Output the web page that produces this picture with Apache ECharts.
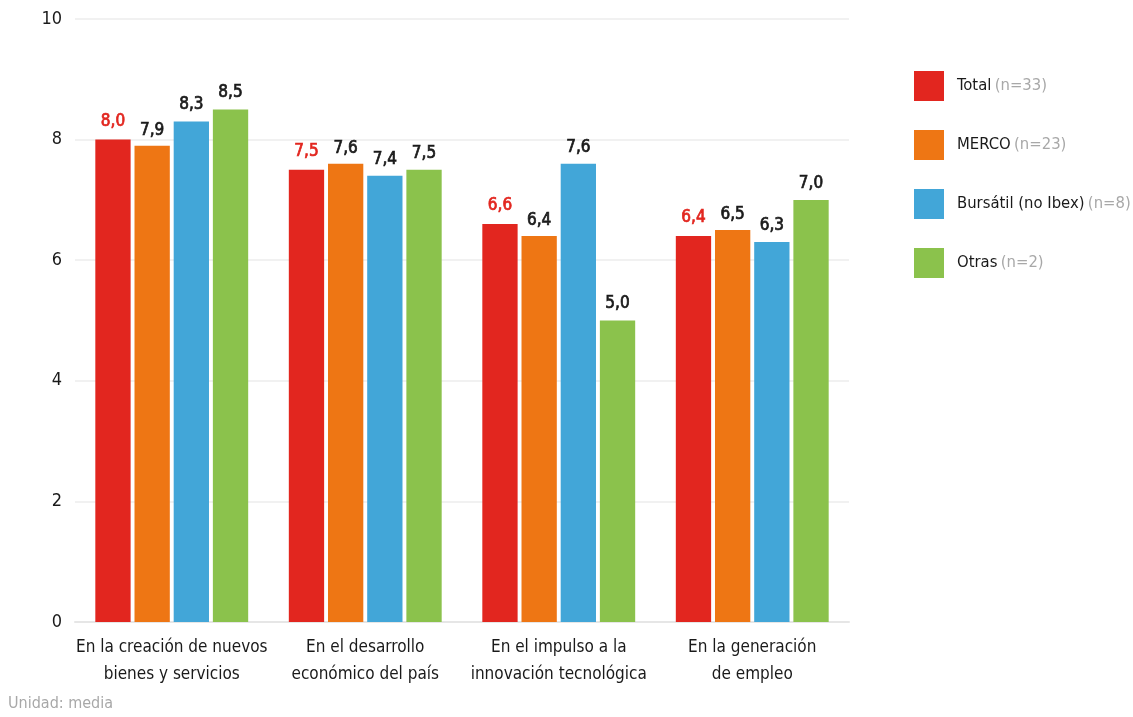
<!DOCTYPE html>
<html>
<head>
<meta charset="utf-8">
<script src="https://cdn.jsdelivr.net/npm/echarts@6/dist/echarts.min.js"></script>
<style>
  html, body { margin: 0; padding: 0; background: #ffffff; }
  #chart { width: 1133px; height: 717px; }
</style>
</head>
<body>
<div id="chart"></div>
<script>
// Categories on the x axis
const categories = [
  'En la creación de nuevos\nbienes y servicios',
  'En el desarrollo\neconómico del país',
  'En el impulso a la\ninnovación tecnológica',
  'En la generación\nde empleo'
];

// Series names and sample sizes
const seriesNames = ['Total', 'MERCO', 'Bursátil (no Ibex)', 'Otras'];
const sampleSizes = ['n=33', 'n=23', 'n=8', 'n=2'];

// Average scores per series
const totalValues    = [8.0, 7.5, 6.6, 6.4];
const mercoValues    = [7.9, 7.6, 6.4, 6.5];
const bursatilValues = [8.3, 7.4, 7.6, 6.3];
const otrasValues    = [8.5, 7.5, 5.0, 7.0];

// Y axis ticks
const yTicks = [0, 2, 4, 6, 8, 10];

const seriesValues = [totalValues, mercoValues, bursatilValues, otrasValues];
const colors = ['#e2261f', '#ee7614', '#42a6d8', '#8bc24c'];
const labelColors = ['#e2261f', '#1a1a1a', '#1a1a1a', '#1a1a1a'];
const labelDistances = [10, 7, 8, 8];

const FONT = '"DejaVu Sans Condensed", "DejaVu Sans", sans-serif';

const chart = echarts.init(document.getElementById('chart'), null, { renderer: 'canvas' });

const series = seriesNames.map((name, i) => ({
  name: name,
  type: 'bar',
  data: seriesValues[i],
  barGap: '11%',
  barCategoryGap: '21%',
  itemStyle: { color: colors[i] },
  label: {
    show: true,
    position: 'top',
    distance: labelDistances[i],
    color: labelColors[i],
    textBorderColor: labelColors[i],
    textBorderWidth: 0.7,
    fontFamily: FONT,
    fontSize: 17,
    formatter: p => p.value.toFixed(1).replace('.', ',')
  }
}));

chart.setOption({
  animation: false,
  backgroundColor: '#ffffff',
  color: colors,
  grid: { left: 75, right: 284, top: 19, bottom: 95, containLabel: false },
  legend: {
    orient: 'vertical',
    left: 914,
    top: 71,
    padding: 0,
    itemWidth: 30,
    itemHeight: 30,
    itemGap: 29,
    icon: 'rect',
    data: seriesNames,
    formatter: name => {
      const i = seriesNames.indexOf(name);
      return '{a|' + name + '} {b|(' + sampleSizes[i] + ')}';
    },
    textStyle: {
      padding: [0, 0, 0, 8],
      rich: {
        a: { fontFamily: FONT, fontSize: 16.5, color: '#1a1a1a' },
        b: { fontFamily: FONT, fontSize: 16.5, color: '#a8a8a8' }
      }
    }
  },
  xAxis: {
    type: 'category',
    data: categories,
    axisTick: { show: false },
    axisLine: { show: true, lineStyle: { color: '#e6e6e6', width: 2 } },
    axisLabel: {
      margin: 12,
      fontFamily: FONT,
      fontSize: 17,
      lineHeight: 27,
      color: '#1a1a1a',
      interval: 0
    }
  },
  yAxis: {
    type: 'value',
    min: yTicks[0],
    max: yTicks[yTicks.length - 1],
    interval: 2,
    axisLine: { show: false },
    axisTick: { show: false },
    splitLine: { lineStyle: { color: '#ececec', width: 1.5 } },
    axisLabel: {
      margin: 13,
      fontFamily: FONT,
      fontSize: 18,
      color: '#1a1a1a'
    }
  },
  graphic: [{
    type: 'text',
    left: 8,
    top: 696,
    style: {
      text: 'Unidad: media',
      fontFamily: FONT,
      fontSize: 16,
      fill: '#a8a8a8'
    }
  }],
  series: series
});
</script>
</body>
</html>
